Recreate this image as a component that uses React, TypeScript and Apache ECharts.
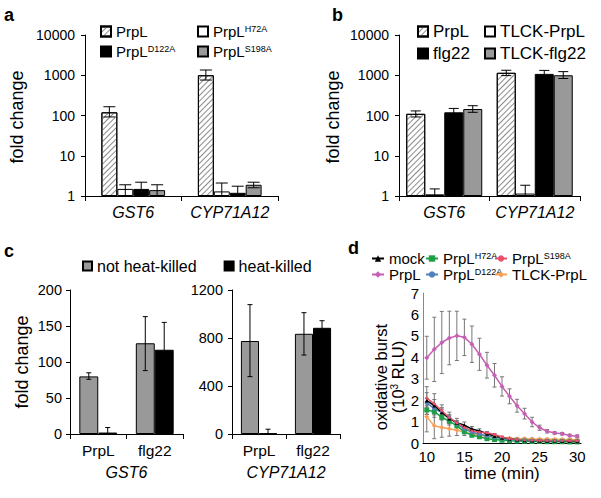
import React, { useEffect, useRef } from "react";
import * as echarts from "echarts";

const FONT = "'Liberation Sans', Arial, Helvetica, sans-serif";

// ---------- panel a ----------
const genes = ["GST6", "CYP71A12"];
const aLabels = ["PrpL", "PrpL{sup|H72A}", "PrpL{sup|D122A}", "PrpL{sup|S198A}"];
const aPrpL = [120, 1000];
const aH72A = [1.5, 1.3];
const aD122A = [1.5, 1.2];
const aS198A = [1.4, 1.9];
const aPrpLErr = [[92, 165], [760, 1350]];
const aH72AErr = [[1, 1.9], [1, 2.1]];
const aD122AErr = [[1, 2.2], [1, 1.75]];
const aS198AErr = [[1, 1.9], [1.6, 2.2]];

// ---------- panel b ----------
const bLabels = ["PrpL", "TLCK-PrpL", "flg22", "TLCK-flg22"];
const bPrpL = [110, 1150];
const bTLCKPrpL = [1.1, 1.15];
const bFlg22 = [120, 1080];
const bTLCKFlg22 = [145, 1000];
const bPrpLErr = [[92, 130], [980, 1330]];
const bTLCKPrpLErr = [[1, 1.5], [1, 1.85]];
const bFlg22Err = [[95, 150], [860, 1320]];
const bTLCKFlg22Err = [[120, 175], [830, 1230]];

// ---------- panel c ----------
const cTreatments = ["PrpL", "flg22"];
const cLabels = ["not heat-killed", "heat-killed"];
const cGstNot = [80, 126];
const cGstHeat = [2, 117];
const cGstNotErr = [[76, 85], [88, 163]];
const cGstHeatErr = [[0, 9], [79, 155]];
const cCypNot = [775, 835];
const cCypHeat = [5, 885];
const cCypNotErr = [[478, 1078], [658, 1011]];
const cCypHeatErr = [[0, 40], [830, 944]];

// ---------- panel d ----------
const times = ["10", "11", "12", "13", "14", "15", "16", "17", "18", "19", "20",
  "21", "22", "23", "24", "25", "26", "27", "28", "29", "30"];
const dLabels = ["mock", "PrpL{sup|H72A}", "PrpL{sup|S198A}", "PrpL", "PrpL{sup|D122A}", "TLCK-PrpL"];
const dMock = [1.98, 1.75, 1.43, 1.14, 0.95, 0.83, 0.65, 0.56, 0.43, 0.33, 0.25, 0.2, 0.16, 0.13, 0.12, 0.11, 0.1, 0.1, 0.09, 0.09, 0.08];
const dH72A = [1.54, 1.46, 1.2, 1.02, 0.8, 0.52, 0.36, 0.29, 0.2, 0.16, 0.13, 0.1, 0.09, 0.08, 0.07, 0.07, 0.06, 0.06, 0.06, 0.05, 0.05];
const dS198A = [2.1, 1.83, 1.5, 1.19, 0.95, 0.72, 0.56, 0.5, 0.48, 0.4, 0.28, 0.2, 0.16, 0.14, 0.13, 0.12, 0.12, 0.11, 0.11, 0.1, 0.1];
const dPrpL = [3.98, 4.37, 4.69, 4.9, 5.0, 4.93, 4.61, 4.14, 3.63, 3.16, 2.64, 2.18, 1.74, 1.37, 0.98, 0.71, 0.55, 0.47, 0.43, 0.35, 0.32];
const dD122A = [1.87, 1.6, 1.43, 1.19, 0.9, 0.65, 0.5, 0.42, 0.33, 0.27, 0.2, 0.16, 0.14, 0.12, 0.11, 0.1, 0.1, 0.09, 0.09, 0.08, 0.08];
const dTLCK = [1.22, 0.8, 0.72, 0.67, 0.6, 0.5, 0.42, 0.36, 0.32, 0.29, 0.25, 0.22, 0.2, 0.2, 0.19, 0.18, 0.18, 0.17, 0.16, 0.16, 0.15];
const dPrpLErr = [1.0, 1.5, 1.45, 1.25, 1.15, 0.85, 0.85, 0.75, 0.6, 0.55, 0.45, 0.35, 0.3, 0.25, 0.22, 0.12, 0.08, 0.06, 0.06, 0.06, 0.06];
const dMockErr = [0.65, 0.55, 0.35, 0.3, 0.2, 0.15, 0.12, 0.1, 0.1, 0.08, 0.05, 0.05, 0.04, 0.04, 0.04, 0.03, 0.03, 0.03, 0.03, 0.03, 0.03];
const dTLCKErr = [0.7, 0.6, 0.45, 0.35, 0.25, 0.15, 0.1, 0.08, 0.06, 0.05, 0.05, 0.04, 0.04, 0.04, 0.04, 0.04, 0.04, 0.04, 0.04, 0.04, 0.04];
const dH72AErr = [0.2, 0.15, 0.12, 0.1, 0.08, 0.06, 0.05, 0.04, 0.03, 0.03, 0.03, 0.03, 0.03, 0.03, 0.03, 0.03, 0.03, 0.03, 0.03, 0.03, 0.03];
const dS198AErr = [0.25, 0.2, 0.15, 0.12, 0.1, 0.08, 0.06, 0.05, 0.05, 0.04, 0.04, 0.03, 0.03, 0.03, 0.03, 0.03, 0.03, 0.03, 0.03, 0.03, 0.03];
const dD122AErr = [0.2, 0.15, 0.15, 0.12, 0.1, 0.08, 0.06, 0.05, 0.04, 0.04, 0.03, 0.03, 0.03, 0.03, 0.03, 0.03, 0.03, 0.03, 0.03, 0.03, 0.03];

const hatch = {
  symbol: "rect", symbolSize: 1, color: "#8a8a8a", backgroundColor: "#ffffff",
  dashArrayX: [1, 0], dashArrayY: [1, 3], rotation: -Math.PI / 4,
};

function bar(name: string, grid: number, data: number[], color: string, gap: string, decal?: any) {
  return {
    type: "bar", name, xAxisIndex: grid, yAxisIndex: grid, data,
    barGap: "0%", barCategoryGap: gap, silent: true,
    itemStyle: { color, borderColor: "#000", borderWidth: 1, decal: decal || "none" },
    emphasis: { disabled: true },
  };
}

function barErr(grid: number, errs: number[][], idx: number, n: number, gap: number, cap: number) {
  return {
    type: "custom", xAxisIndex: grid, yAxisIndex: grid, z: 10, silent: true,
    encode: { x: 0, y: [1, 2] },
    data: errs.map((e, i) => [i, e[0], e[1]]),
    renderItem: (params: any, api: any) => {
      const cat = api.value(0);
      const lo = api.coord([cat, api.value(1)]);
      const hi = api.coord([cat, api.value(2)]);
      const band = api.size([1, 0])[0];
      const groupW = band * (1 - gap);
      const bw = groupW / n;
      const x = lo[0] - groupW / 2 + (idx + 0.5) * bw;
      const st = { stroke: "#000", lineWidth: 1 };
      return {
        type: "group", children: [
          { type: "line", shape: { x1: x, y1: lo[1], x2: x, y2: hi[1] }, style: st },
          { type: "line", shape: { x1: x - cap, y1: hi[1], x2: x + cap, y2: hi[1] }, style: st },
          { type: "line", shape: { x1: x - cap, y1: lo[1], x2: x + cap, y2: lo[1] }, style: st },
        ],
      };
    },
  };
}

function line(name: string, data: number[], color: string, symbol: string, size: number) {
  return {
    type: "line", name, xAxisIndex: 4, yAxisIndex: 4, data, symbol, symbolSize: size,
    silent: true, z: 5,
    lineStyle: { color, width: 1.5 }, itemStyle: { color },
    emphasis: { disabled: true },
  };
}

function lineErr(vals: number[], errs: number[]) {
  return {
    type: "custom", xAxisIndex: 4, yAxisIndex: 4, z: 3, silent: true,
    encode: { x: 0, y: [1, 2] },
    data: vals.map((v, i) => [i, Math.max(0, v - errs[i]), v + errs[i]]),
    renderItem: (params: any, api: any) => {
      const cat = api.value(0);
      const lo = api.coord([cat, api.value(1)]);
      const hi = api.coord([cat, api.value(2)]);
      const x = lo[0];
      const st = { stroke: "#777", lineWidth: 1 };
      return {
        type: "group", children: [
          { type: "line", shape: { x1: x, y1: lo[1], x2: x, y2: hi[1] }, style: st },
          { type: "line", shape: { x1: x - 2, y1: hi[1], x2: x + 2, y2: hi[1] }, style: st },
          { type: "line", shape: { x1: x - 2, y1: lo[1], x2: x + 2, y2: lo[1] }, style: st },
        ],
      };
    },
  };
}

const supRich = (size: number) => ({ sup: { fontSize: size, verticalAlign: "top", fontFamily: FONT, color: "#000" } });

export default function App() {
  const ref = useRef<HTMLDivElement>(null);
  useEffect(() => {
    if (!ref.current) return;
    const chart = echarts.init(ref.current, undefined, { renderer: "svg" });
    const labelMap: Record<string, string> = {};
    aLabels.forEach((l, i) => (labelMap["a" + i] = l));
    bLabels.forEach((l, i) => (labelMap["b" + i] = l));
    cLabels.forEach((l, i) => (labelMap["c" + i] = l));
    dLabels.forEach((l, i) => (labelMap["d" + i] = l));
    const fmt = (n: string) => labelMap[n] || n;

    const axLine = { show: true, lineStyle: { color: "#000", width: 1 } };
    const axTick = { show: true, length: 4, lineStyle: { color: "#000", width: 1 } };
    const lbl = (size: number, extra: any = {}) => ({ color: "#000", fontFamily: FONT, fontSize: size, ...extra });

    const legendBase = (size: number, supSize: number) => ({
      orient: "vertical", selectedMode: false, formatter: fmt, icon: "rect",
      textStyle: { color: "#000", fontFamily: FONT, fontSize: size, rich: supRich(supSize) },
    });

    const gapA = 0.34, gapB = 0.16, gapC = 0.33;
    const txt = (x: number, y: number, text: string, font: string, rot = 0) => ({
      type: "text", x, y, rotation: rot,
      style: { text, fill: "#000", font, align: rot ? "center" : "left", verticalAlign: "middle", textAlign: rot ? "center" : "left", textVerticalAlign: "middle" },
    });

    const option: any = {
      animation: false,
      grid: [
        { left: 85, top: 35, width: 193, height: 161 },
        { left: 399, top: 35, width: 181, height: 161 },
        { left: 70, top: 290, width: 113, height: 144 },
        { left: 232, top: 290, width: 108, height: 144 },
        { left: 423, top: 293, width: 158, height: 150 },
      ],
      xAxis: [
        { gridIndex: 0, type: "category", data: genes, axisLine: axLine, axisTick: { ...axTick, length: 5 }, axisLabel: lbl(16, { fontStyle: "italic", margin: 8, interval: 0 }) },
        { gridIndex: 1, type: "category", data: genes, axisLine: axLine, axisTick: { ...axTick, length: 5 }, axisLabel: lbl(16, { fontStyle: "italic", margin: 8, interval: 0 }) },
        { gridIndex: 2, type: "category", data: cTreatments, axisLine: axLine, axisTick: { ...axTick, length: 5 }, axisLabel: lbl(15.5, { margin: 8, interval: 0 }),
          name: genes[0], nameLocation: "middle", nameGap: 30, nameTextStyle: lbl(16, { fontStyle: "italic" }) },
        { gridIndex: 3, type: "category", data: cTreatments, axisLine: axLine, axisTick: { ...axTick, length: 5 }, axisLabel: lbl(15.5, { margin: 8, interval: 0 }),
          name: genes[1], nameLocation: "middle", nameGap: 30, nameTextStyle: lbl(16, { fontStyle: "italic" }) },
        { gridIndex: 4, type: "category", data: times, boundaryGap: true, axisLine: axLine, axisTick: { show: false }, axisLabel: lbl(15, { interval: 4, margin: 6 }),
          name: "time (min)", nameLocation: "middle", nameGap: 22, nameTextStyle: lbl(17) },
      ],
      yAxis: [
        { gridIndex: 0, type: "log", logBase: 10, min: 1, max: 10000, axisLine: axLine, axisTick: axTick, splitLine: { show: false },
          axisLabel: lbl(14, { margin: 10, formatter: (v: number) => String(Math.round(v)) }) },
        { gridIndex: 1, type: "log", logBase: 10, min: 1, max: 10000, axisLine: axLine, axisTick: axTick, splitLine: { show: false },
          axisLabel: lbl(14, { margin: 10, formatter: (v: number) => String(Math.round(v)) }) },
        { gridIndex: 2, type: "value", min: 0, max: 200, interval: 50, axisLine: axLine, axisTick: axTick, splitLine: { show: false },
          axisLabel: lbl(14.5, { margin: 8 }) },
        { gridIndex: 3, type: "value", min: 0, max: 1200, interval: 400, axisLine: axLine, axisTick: axTick, splitLine: { show: false },
          axisLabel: lbl(14.5, { margin: 9, formatter: (v: number) => String(v) }) },
        { gridIndex: 4, type: "value", min: 0, max: 7, interval: 1, axisLine: { show: true, lineStyle: { color: "#888", width: 1 } }, axisTick: { show: false }, splitLine: { show: false },
          axisLabel: lbl(15, { margin: 4 }) },
      ],
      legend: [
        { ...legendBase(15, 9), left: 95, top: 19, itemWidth: 10, itemHeight: 10, itemGap: 5, data: ["a0", "a2"] },
        { ...legendBase(15, 9), left: 192, top: 19, itemWidth: 10, itemHeight: 10, itemGap: 5, data: ["a1", "a3"] },
        { ...legendBase(17, 10), left: 412, top: 18, itemWidth: 10, itemHeight: 10, itemGap: 5, data: ["b0", "b2"] },
        { ...legendBase(17, 10), left: 479, top: 18, itemWidth: 10, itemHeight: 10, itemGap: 5, data: ["b1", "b3"] },
        { ...legendBase(16, 9), orient: "horizontal", left: 77, top: 253, itemWidth: 9, itemHeight: 9, itemGap: 27, data: ["c0", "c1"] },
        { ...legendBase(15, 9), icon: undefined, left: 366, top: 246, itemWidth: 12, itemHeight: 8, itemGap: 1, data: ["d0", "d3"] },
        { ...legendBase(15, 9), icon: undefined, left: 420, top: 246, itemWidth: 12, itemHeight: 8, itemGap: 1, data: ["d1", "d4"] },
        { ...legendBase(15, 9), icon: undefined, left: 489, top: 246, itemWidth: 12, itemHeight: 8, itemGap: 1, data: ["d2", "d5"] },
      ],
      graphic: [
        txt(4, 15, "a", `bold 18px ${FONT}`),
        txt(332, 15, "b", `bold 18px ${FONT}`),
        txt(4, 251, "c", `bold 18px ${FONT}`),
        txt(348, 248, "d", `bold 18px ${FONT}`),
        txt(17, 117, "fold change", `18px ${FONT}`, Math.PI / 2),
        txt(333, 117, "fold change", `18px ${FONT}`, Math.PI / 2),
        txt(22, 362, "fold change", `18px ${FONT}`, Math.PI / 2),
        { type: "text", x: 389, y: 377, rotation: Math.PI / 2, style: { text: "oxidative burst\n(10{sup|3} RLU)", fill: "#000", fontSize: 16.5, fontFamily: FONT, lineHeight: 17, align: "center", verticalAlign: "middle", textAlign: "center", textVerticalAlign: "middle", rich: { sup: { fontSize: 10, verticalAlign: "top", fontFamily: FONT, fill: "#000", lineHeight: 17 } } } },
      ],
      series: [
        bar("a0", 0, aPrpL, "#ffffff", "34%", hatch),
        bar("a1", 0, aH72A, "#ffffff", "34%"),
        bar("a2", 0, aD122A, "#000000", "34%"),
        bar("a3", 0, aS198A, "#999999", "34%"),
        barErr(0, aPrpLErr, 0, 4, gapA, 6),
        barErr(0, aH72AErr, 1, 4, gapA, 6),
        barErr(0, aD122AErr, 2, 4, gapA, 6),
        barErr(0, aS198AErr, 3, 4, gapA, 6),
        bar("b0", 1, bPrpL, "#ffffff", "16%", hatch),
        bar("b1", 1, bTLCKPrpL, "#ffffff", "16%"),
        bar("b2", 1, bFlg22, "#000000", "16%"),
        bar("b3", 1, bTLCKFlg22, "#999999", "16%"),
        barErr(1, bPrpLErr, 0, 4, gapB, 5),
        barErr(1, bTLCKPrpLErr, 1, 4, gapB, 5),
        barErr(1, bFlg22Err, 2, 4, gapB, 5),
        barErr(1, bTLCKFlg22Err, 3, 4, gapB, 5),
        bar("c0", 2, cGstNot, "#999999", "33%"),
        bar("c1", 2, cGstHeat, "#000000", "33%"),
        barErr(2, cGstNotErr, 0, 2, gapC, 2.5),
        barErr(2, cGstHeatErr, 1, 2, gapC, 2.5),
        bar("c0r", 3, cCypNot, "#999999", "33%"),
        bar("c1r", 3, cCypHeat, "#000000", "33%"),
        barErr(3, cCypNotErr, 0, 2, gapC, 2.5),
        barErr(3, cCypHeatErr, 1, 2, gapC, 2.5),
        lineErr(dPrpL, dPrpLErr),
        lineErr(dMock, dMockErr),
        lineErr(dTLCK, dTLCKErr),
        lineErr(dH72A, dH72AErr),
        lineErr(dS198A, dS198AErr),
        lineErr(dD122A, dD122AErr),
        line("d5", dTLCK, "#f5a15a", "diamond", 5),
        line("d1", dH72A, "#1f9e48", "rect", 5),
        line("d4", dD122A, "#4f81bd", "circle", 4),
        line("d0", dMock, "#000000", "triangle", 4),
        line("d2", dS198A, "#e8506a", "circle", 3),
        line("d3", dPrpL, "#c75fb4", "diamond", 5),
      ],
    };
    chart.setOption(option);
    return () => chart.dispose();
  }, []);
  return <div ref={ref} style={{ position: "absolute", left: 0, top: 0, width: 601, height: 498, background: "#fff" }} />;
}
